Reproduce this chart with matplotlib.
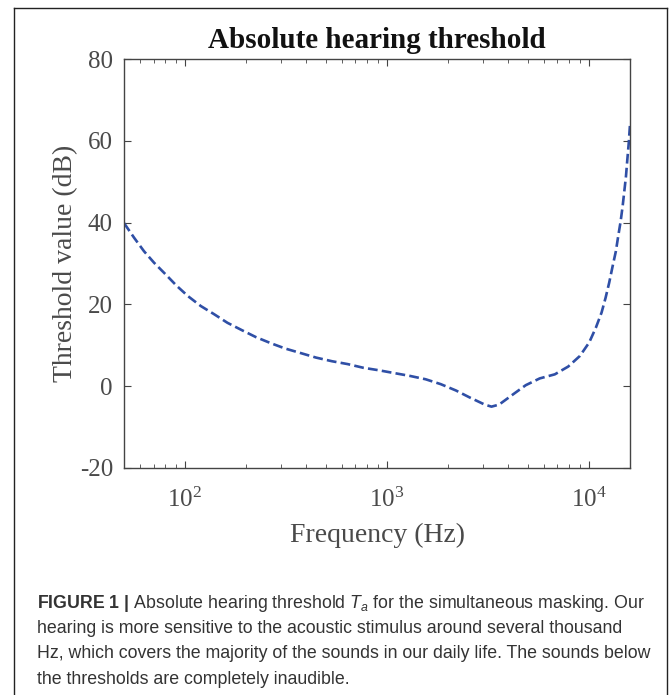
import matplotlib
matplotlib.use("Agg")
import matplotlib.pyplot as plt
from matplotlib.lines import Line2D

# values (Hz, dB)
freq = [50, 56.1, 62.8, 70.4, 80.5, 90.9, 103.8, 120, 139.7, 162.6, 191.7,
        225, 267, 314.5, 369, 446, 536, 641, 766, 912, 1091, 1306, 1556,
        1850, 2200, 2560, 3055, 3297, 3597, 4218, 4876, 5715, 6790, 7910,
        9040, 10050, 10840, 11570, 12110, 12620, 13120, 13620, 13990,
        14380, 14710, 14990, 15280, 15520, 15770, 16000]
thresh = [39.9, 36.3, 33.0, 30.2, 27.3, 24.6, 22.0, 19.6, 17.6, 15.5, 13.7,
          12.0, 10.5, 9.2, 8.2, 7.0, 6.1, 5.4, 4.5, 3.9, 3.2, 2.5, 1.7,
          0.5, -1.05, -2.7, -4.5, -5.0, -4.5, -2.0, 0.25, 1.9, 2.9, 4.8,
          7.4, 10.7, 14.3, 18.0, 21.6, 25.3, 29.3, 33.0, 36.7,
          40.3, 44.0, 47.6, 51.3, 55.4, 59.4, 64.0]
yticks = [-20, 0, 20, 40, 60, 80]

caption = [
    r"$\mathbf{FIGURE\ 1\ |}$ Absolute hearing threshold $T_a$ for the simultaneous masking. Our",
    "hearing is more sensitive to the acoustic stimulus around several thousand",
    "Hz, which covers the majority of the sounds in our daily life. The sounds below",
    "the thresholds are completely inaudible.",
]

plt.rcParams['font.family'] = 'Liberation Serif'
plt.rcParams['axes.unicode_minus'] = False
plt.rcParams['mathtext.fontset'] = 'custom'
plt.rcParams['mathtext.it'] = 'Liberation Sans:italic'
plt.rcParams['mathtext.bf'] = 'Liberation Sans:bold'
plt.rcParams['mathtext.rm'] = 'Liberation Sans'

axcol = '#444444'

fig = plt.figure(figsize=(6.72, 6.95), dpi=100)
ax = fig.add_axes([124 / 672, 1 - 468 / 695, 506 / 672, 409 / 695])

ax.semilogx(freq, thresh, '--', color='#2f4fa6', lw=1.9)
ax.set_xlim(50, 16000)
ax.set_ylim(-20, 80)
ax.set_yticks(yticks)

ax.set_title("Absolute hearing threshold", fontsize=21, fontweight='bold',
             color='#111111', pad=8)
ax.set_xlabel("Frequency (Hz)", fontsize=20, color='#4a4a4a', labelpad=8)
ax.set_ylabel("Threshold value (dB)", fontsize=20, color='#4a4a4a', labelpad=1)

for s in ax.spines.values():
    s.set_color(axcol)
    s.set_linewidth(1.0)
ax.tick_params(which='both', direction='in', top=True, right=True,
               colors=axcol, labelcolor='#4a4a4a')
ax.tick_params(which='major', length=5, labelsize=18)
ax.tick_params(axis='x', which='major', pad=14)
ax.tick_params(axis='y', which='major', pad=8)
ax.tick_params(which='minor', length=3)

# outer frame
fig.add_artist(Line2D([14 / 672, 14 / 672], [0, 1 - 8 / 695], color='#222222', lw=1))
fig.add_artist(Line2D([667 / 672, 667 / 672], [0, 1 - 8 / 695], color='#222222', lw=1))
fig.add_artist(Line2D([14 / 672, 667 / 672], [1 - 8 / 695, 1 - 8 / 695], color='#222222', lw=1))

y0 = 603
for i, line in enumerate(caption):
    fig.text(37 / 672, 1 - (y0 + 25.5 * i) / 695, line, family='Liberation Sans',
             fontsize=12.8, color='#333333', va='center', ha='left')

fig.savefig("out.png", dpi=100)
